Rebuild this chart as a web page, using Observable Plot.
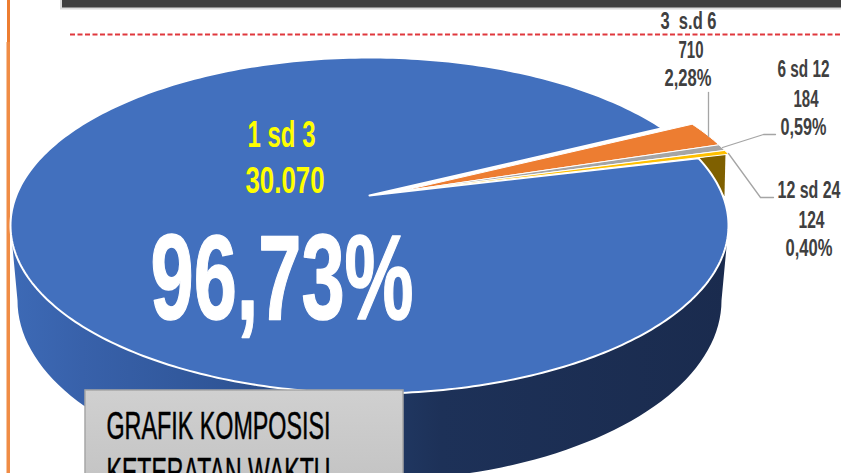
<!DOCTYPE html>
<html>
<head>
<meta charset="utf-8">
<script src="https://cdn.jsdelivr.net/npm/d3@7"></script>
<script src="https://cdn.jsdelivr.net/npm/@observablehq/plot@0.6"></script>
<style>
html,body{margin:0;padding:0;background:#fff;overflow:hidden}
svg text{white-space:pre}
</style>
</head>
<body>
<div id="chart"></div>
<script>
const categories = ["1 sd 3", "3  s.d 6", "6 sd 12", "12 sd 24"];
const counts = [30070, 710, 184, 124];
const countLabels = ["30.070", "710", "184", "124"];
const percentLabels = ["96,73%", "2,28%", "0,59%", "0,40%"];
const sliceColors = ["#4270be", "#ed7d31", "#a5a5a5", "#ffc000"];
const titleLines = ["GRAFIK KOMPOSISI", "KETERATAN WAKTU"];

// pie geometry
const cx = 369, cy = 225, rx = 359, ry = 168;
const apexY = 195;                 // perspective hub
const bottom = {cy: 300, rx: 352, ry: 180};
const explode = {dx: 30, dy: -4};
const rad = Math.PI / 180;
const startDeg = 66.4;

const arcs = d3.pie().sort(null)
  .startAngle(startDeg * rad)
  .endAngle((startDeg + 360) * rad)(counts);

const rim = a => [cx + rx * Math.sin(a), cy - ry * Math.cos(a)];
function sliceOutline(arc, i) {
  const off = i === 0 ? {dx: 0, dy: 0} : explode;
  const n = Math.max(2, Math.ceil((arc.endAngle - arc.startAngle) / (1 * rad)));
  const pts = [[cx, apexY]];
  d3.range(n + 1).forEach(k => pts.push(rim(arc.startAngle + (arc.endAngle - arc.startAngle) * k / n)));
  pts.push([cx, apexY]);
  return pts.map(([x, y], order) => ({x: x + off.dx, y: y + off.dy, cat: categories[i], order}));
}
const slices = arcs.map(sliceOutline);

// extruded wall of the whole pie
const wall = [{x: cx - rx, y: cy}];
d3.range(180, -1, -2).forEach(deg => wall.push({
  x: cx + bottom.rx * Math.cos(deg * rad),
  y: bottom.cy + bottom.ry * Math.sin(deg * rad)
}));
wall.push({x: cx + rx, y: cy});

// darker side of the last exploded slice
const yEnd = rim(arcs[0].startAngle);
const brownWall = [
  {x: yEnd[0], y: yEnd[1]},
  {x: yEnd[0] + explode.dx - 3, y: yEnd[1] + explode.dy - 1},
  {x: yEnd[0] + explode.dx - 4, y: yEnd[1] + explode.dy + 42}
];

// labels
const small = (text, x, y, w) => ({text, x, y, w});
const greyRows = [
  small(categories[1], 688, 28, 56), small(countLabels[1], 690.5, 57, 25), small(percentLabels[1], 687.5, 85, 47),
  small(categories[2], 803, 76, 52), small(countLabels[2], 805.5, 106, 25), small(percentLabels[2], 803, 134, 46),
  small(categories[3], 808.5, 197, 63), small(countLabels[3], 811, 227, 26), small(percentLabels[3], 808.5, 255, 47)
];
const yellowRows = [small(categories[0], 281, 146, 68), small(countLabels[0], 284.5, 192, 79)];
const bigRows = [small(percentLabels[0], 281.5, 318, 263)];
const titleRows = [small(titleLines[0], 218, 438, 224), small(titleLines[1], 218, 484, 224)];

const leaders = [
  {k: "a", x: 708, y: 92}, {k: "a", x: 708, y: 136},
  {k: "b", x: 775, y: 134}, {k: "b", x: 763, y: 134}, {k: "b", x: 722, y: 147},
  {k: "c", x: 773, y: 197}, {k: "c", x: 760, y: 197}, {k: "c", x: 728, y: 153}
];

function textMark(rows, opts) {
  return Plot.text(rows, {
    x: "x", y: "y", text: "text", textAnchor: "middle", lineAnchor: "bottom",
    fontWeight: "bold", ...opts,
    render(index, scales, values, dims, ctx, next) {
      const g = next(index, scales, values, dims, ctx);
      d3.select(g).selectAll("text")
        .attr("textLength", i => rows[i].w)
        .attr("lengthAdjust", "spacingAndGlyphs");
      return g;
    }
  });
}

function gradient(id, x2, y2, stops) {
  const s = document.createElementNS("http://www.w3.org/2000/svg", "defs");
  const g = d3.select(s).append("linearGradient").attr("id", id)
    .attr("x1", 0).attr("y1", 0).attr("x2", x2).attr("y2", y2);
  stops.forEach(([o, c]) => g.append("stop").attr("offset", o).attr("stop-color", c));
  return s;
}

const chart = Plot.plot({
  width: 841, height: 473,
  margin: 0,
  x: {domain: [0, 841], range: [0, 841], axis: null},
  y: {domain: [0, 473], range: [0, 473], axis: null},
  color: {domain: categories, range: sliceColors},
  style: {fontFamily: "'Liberation Sans Narrow','Liberation Sans',sans-serif", background: "#fff", overflow: "hidden"},
  marks: [
    () => gradient("sideGrad", 1, 0, [[0, "#3d6ab6"], [0.1, "#3861aa"], [0.3, "#2f5597"], [0.45, "#24406f"], [0.6, "#1d3158"], [1, "#1a2b4e"]]),
    () => gradient("boxGrad", 0, 1, [[0, "#d0d0d0"], [1, "#c4c4c4"]]),
    // frame pieces
    Plot.rect([{a: 60, b: 841, c: 0, d: 9.5}], {x1: "a", x2: "b", y1: "c", y2: "d", fill: "#dcdcdc"}),
    Plot.rect([{a: 62, b: 841, c: 0, d: 7.5}], {x1: "a", x2: "b", y1: "c", y2: "d", fill: "#404040"}),
    Plot.rect([{a: 7, b: 10, c: 0, d: 42}], {x1: "a", x2: "b", y1: "c", y2: "d", fill: "#ed7d31"}),
    Plot.rect([{a: 6.5, b: 10, c: 42, d: 473}], {x1: "a", x2: "b", y1: "c", y2: "d", fill: "#f08c45"}),
    Plot.ruleY([34], {x1: 70, x2: 841, stroke: "#e0383e", strokeWidth: 2, strokeDasharray: "5,2.5"}),
    // pie
    Plot.line(wall, {x: "x", y: "y", fill: "url(#sideGrad)", stroke: "none"}),
    Plot.line(brownWall.concat(brownWall[0]), {x: "x", y: "y", fill: "#7f6000", stroke: "none"}),
    Plot.line(slices[0], {x: "x", y: "y", z: "cat", fill: "cat", stroke: "#fff", strokeWidth: 2}),
    Plot.line(slices.slice(1).flat(), {x: "x", y: "y", z: "cat", fill: "cat", stroke: "#fff", strokeWidth: 1}),
    // leaders
    Plot.line(leaders, {x: "x", y: "y", z: "k", stroke: "#a5a5a5", strokeWidth: 1.3}),
    // labels
    textMark(greyRows, {fill: "#404040", fontSize: 23}),
    textMark(yellowRows, {fill: "#ffff00", fontSize: 36}),
    textMark(bigRows, {fill: "#fff", stroke: "#fff", strokeWidth: 1.5, fontSize: 120}),
    // title box
    Plot.rect([{a: 85, b: 403, c: 390, d: 480}], {x1: "a", x2: "b", y1: "c", y2: "d", fill: "url(#boxGrad)", stroke: "#a6a6a6", strokeWidth: 1.5}),
    textMark(titleRows, {fill: "#000", stroke: "#000", strokeWidth: 0.5, fontSize: 38, fontWeight: "normal"})
  ]
});
document.getElementById("chart").appendChild(chart);
</script>
</body>
</html>
